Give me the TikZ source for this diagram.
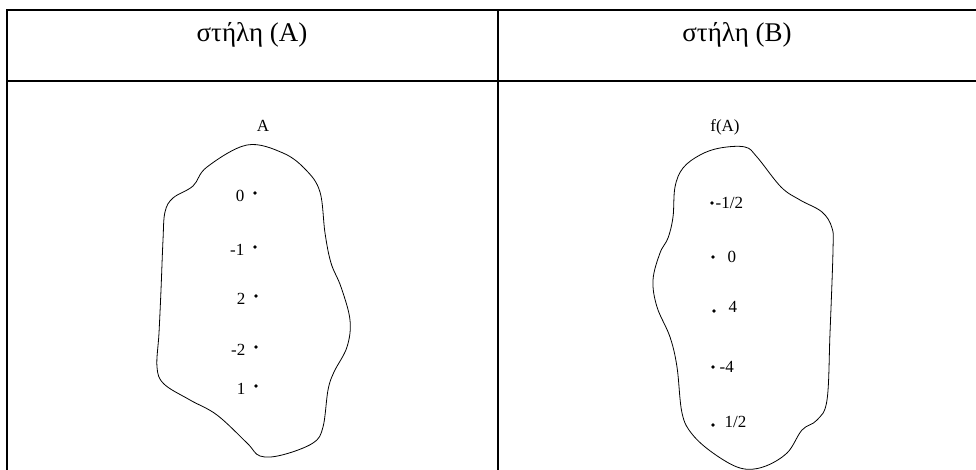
\documentclass[tikz,border=0pt]{standalone}
\usepackage{fontspec}
\setmainfont{Liberation Serif}

\begin{document}
\begin{tikzpicture}[x=1pt, y=-1pt,
		pt/.style={circle, inner sep=1.4pt, fill=black},
		every label/.style={font=\fontsize{17}{20}\selectfont},
		heading/.style={anchor=base, font=\fontsize{27}{30}\selectfont},
		setname/.style={anchor=base, font=\fontsize{17}{20}\selectfont}]
			\useasboundingbox (0,0) rectangle (976,470);
			\draw[line width=2pt] (7,470) -- (7,10) -- (976,10);
			\draw[line width=2pt] (7,81) -- (976,81);
			\draw[line width=2pt] (498,10) -- (498,470);
			\node[heading](hA) at (252,42){στήλη (A)};
			\node[heading](hB) at (737,42){στήλη (B)};
			\node[setname](setA) at (263,132){A};
			\node[setname](setB) at (725,132){f(A)};
			\draw[thick] plot[smooth cycle, tension=0.6] coordinates {(247,145) (207,167) (193,186) (173,198) (165,212) (163,240) (161,290) (159,333) (157,367) (164,384) (190,400) (217,415) (247,443) (260,456) (282,455) (313,443) (323,427) (328,390) (334,372) (347,347) (350,320) (341,287) (331,263) (325,233) (320,192) (306,170) (283,153)};
			\draw[thick] plot[smooth cycle, tension=0.6] coordinates {(745,147) (720,148) (700,155) (683,168) (675,187) (673,217) (668,238) (660,253) (653,280) (657,307) (670,337) (677,367) (682,413) (692,434) (713,453) (740,468) (763,467) (787,453) (802,430) (817,420) (827,400) (830,333) (833,250) (832,228) (822,212) (800,200) (781,187) (757,157)};
			\node[pt, label={[label distance=5pt, yshift=-3pt]left:{0}}](a1) at (255,193){};
			\node[pt, label={[label distance=5pt, yshift=-3pt]left:{-1}}](a2) at (255,247){};
			\node[pt, label={[label distance=5pt, yshift=-3pt]left:{2}}](a3) at (256,296){};
			\node[pt, label={[label distance=5pt, yshift=-3pt]left:{-2}}](a4) at (256,347){};
			\node[pt, label={[label distance=5pt, yshift=-3pt]left:{1}}](a5) at (256,386){};
			\node[pt, label={[label distance=-2pt]right:{-1/2}}](b1) at (712,203){};
			\node[pt, label={[label distance=9pt]right:{0}}](b2) at (713,257){};
			\node[pt, label={[label distance=9pt, yshift=4pt]right:{4}}](b3) at (714,311){};
			\node[pt, label={[label distance=1pt]right:{-4}}](b4) at (713,367){};
			\node[pt, label={[label distance=6pt, yshift=3pt]right:{1/2}}](b5) at (713,425){};
			\end{tikzpicture}
\end{document}
